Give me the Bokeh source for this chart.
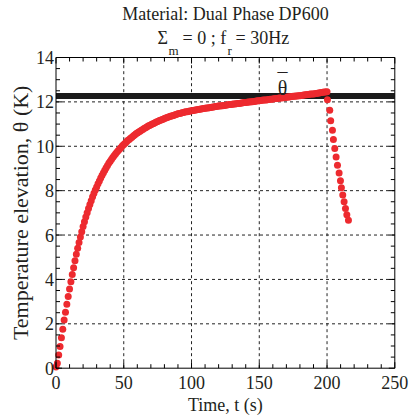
import math
from bokeh.plotting import figure
from bokeh.models import Label, Range1d
from bokeh.embed import file_html
from bokeh.resources import INLINE
from bokeh.core.properties import value

# ---- data ----
heat_t = list(range(0, 201))
heat_theta = [
    0.05, 0.22, 0.6, 0.98, 1.37, 1.75, 2.17, 2.52, 2.88, 3.23,
    3.57, 3.9, 4.22, 4.53, 4.84, 5.13, 5.4, 5.66, 5.91, 6.15,
    6.38, 6.6, 6.81, 7.01, 7.2, 7.38, 7.55, 7.72, 7.88, 8.03,
    8.17, 8.31, 8.44, 8.57, 8.69, 8.81, 8.92, 9.03, 9.13, 9.23,
    9.32, 9.41, 9.5, 9.58, 9.66, 9.74, 9.81, 9.88, 9.95, 10.02,
    10.08, 10.14, 10.2, 10.26, 10.31, 10.36, 10.41, 10.46, 10.51, 10.56,
    10.6, 10.64, 10.68, 10.72, 10.76, 10.8, 10.84, 10.87, 10.91, 10.94,
    10.97, 11.0, 11.03, 11.06, 11.09, 11.12, 11.15, 11.17, 11.2, 11.22,
    11.25, 11.27, 11.3, 11.32, 11.34, 11.36, 11.38, 11.4, 11.42, 11.44,
    11.46, 11.48, 11.49, 11.51, 11.52, 11.54, 11.55, 11.56, 11.58, 11.59,
    11.6, 11.61, 11.62, 11.64, 11.65, 11.66, 11.67, 11.68, 11.69, 11.7,
    11.71, 11.72, 11.73, 11.74, 11.75, 11.76, 11.77, 11.78, 11.79, 11.8,
    11.81, 11.82, 11.83, 11.83, 11.84, 11.85, 11.86, 11.87, 11.88, 11.88,
    11.89, 11.9, 11.91, 11.92, 11.93, 11.93, 11.94, 11.95, 11.96, 11.97,
    11.97, 11.98, 11.99, 12.0, 12.01, 12.01, 12.02, 12.03, 12.04, 12.05,
    12.05, 12.06, 12.07, 12.08, 12.09, 12.09, 12.1, 12.11, 12.12, 12.12,
    12.13, 12.14, 12.15, 12.15, 12.16, 12.17, 12.18, 12.19, 12.19, 12.2,
    12.21, 12.22, 12.22, 12.23, 12.24, 12.25, 12.25, 12.26, 12.27, 12.28,
    12.28, 12.29, 12.3, 12.31, 12.32, 12.32, 12.33, 12.34, 12.35, 12.36,
    12.36, 12.37, 12.38, 12.39, 12.4, 12.41, 12.42, 12.43, 12.44, 12.45,
    12.46,
]
cool_t = [200.3, 202.0, 202.7, 204.0, 204.7, 205.7, 206.7, 207.7,
          208.9, 209.9, 210.6, 211.6, 212.6, 213.6, 214.6, 215.8]
cool_theta = [12.1, 11.62, 11.15, 10.72, 10.3, 9.9, 9.52, 9.15,
              8.8, 8.45, 8.13, 7.8, 7.5, 7.2, 6.92, 6.67]
theta_bar = 12.26

x_ticks = [0, 50, 100, 150, 200, 250]
x_tick_labels = ["0", "50", "100", "150", "200", "250"]
x_minor = [m for m in range(0, 251, 10) if m % 50 != 0]
x_grid = [50, 100, 150, 200]
y_ticks = [0, 2, 4, 6, 8, 10, 12, 14]
y_tick_labels = ["0", "2", "4", "6", "8", "10", "12", "14"]
y_minor = [i * 0.5 for i in range(0, 29) if i % 4 != 0]
y_grid = [2, 4, 6, 8, 10, 12]
x_min, x_max = 0, 250
y_min, y_max = 0, 14

title1 = "Material: Dual Phase DP600"
title2_parts = ["\u03a3", "m", "= 0 ; f", "r", "= 30Hz"]
xlabel = "Time, t (s)"
ylabel = "Temperature elevation, \u03b8 (K)"
bar_label = "\u03b8"

FONT = "Liberation Serif"
TXT = "#231F20"
RED = "#ED2A2F"

# ---- layout: the frame covers the whole canvas; pixel anchors ----
W, H = 411, 415
X0_PX, X250_PX = 55.5, 394.3   # where x=0 and x=250 sit
Y0_PX, Y14_PX = 367.7, 57.0    # where y=0 and y=14 sit
xppu = (X250_PX - X0_PX) / (x_max - x_min)
yppu = (Y0_PX - Y14_PX) / (y_max - y_min)


def xd(px):
    return x_min + (px - X0_PX) / xppu


def yd(py):
    return y_min + (Y0_PX - py) / yppu


p = figure(frame_width=W, frame_height=H,
           x_range=Range1d(xd(0), xd(W)), y_range=Range1d(yd(H), yd(0)),
           toolbar_location=None, output_backend="svg",
           x_axis_location=None, y_axis_location=None,
           min_border=0, background_fill_color="white",
           border_fill_color="white", outline_line_color=None)
p.grid.visible = False

# dashed grid
p.segment(x0=x_grid, y0=[y_min] * len(x_grid), x1=x_grid,
          y1=[y_max] * len(x_grid), line_color="#222222",
          line_dash="3 3", line_width=1)
p.segment(x0=[x_min] * len(y_grid), y0=y_grid, x1=[x_max] * len(y_grid),
          y1=y_grid, line_color="#222222", line_dash="3 3", line_width=1)

# mean temperature line
p.line(x=[x_min, x_max], y=[theta_bar, theta_bar], line_color="#1A1A1A",
       line_width=6)

# measurements
p.scatter(x=heat_t, y=heat_theta, size=7, fill_color=RED, line_color=None)
p.scatter(x=cool_t, y=cool_theta, size=7, fill_color=RED, line_color=None)

# box (left, bottom, top, right)
p.segment(x0=[x_min, x_min, x_min, x_max], y0=[y_min, y_min, y_max, y_min],
          x1=[x_min, x_max, x_max, x_max], y1=[y_max, y_min, y_max, y_max],
          line_color="black", line_width=1)

# inward ticks on all four sides
for xs, ys, ln, ang in [
    (x_ticks, [y_min] * len(x_ticks), 6, math.pi / 2),
    (x_minor, [y_min] * len(x_minor), 4, math.pi / 2),
    (x_ticks, [y_max] * len(x_ticks), 6, -math.pi / 2),
    (x_minor, [y_max] * len(x_minor), 4, -math.pi / 2),
    ([x_min] * len(y_ticks), y_ticks, 6, 0.0),
    ([x_min] * len(y_minor), y_minor, 4, 0.0),
    ([x_max] * len(y_ticks), y_ticks, 6, math.pi),
    ([x_max] * len(y_minor), y_minor, 4, math.pi),
]:
    p.ray(x=xs, y=ys, length=ln, length_units="screen", angle=ang,
          line_color="black", line_width=1)

# tick labels
p.text(x=x_ticks, y=[y_min] * len(x_ticks), text=x_tick_labels,
       text_font=value(FONT), text_font_size=value("18px"), text_color=TXT,
       text_align="center", text_baseline="middle", y_offset=14)
p.text(x=[x_min] * len(y_ticks), y=y_ticks, text=y_tick_labels,
       text_font=value(FONT), text_font_size=value("18px"), text_color=TXT,
       text_align="right", text_baseline="middle", x_offset=-2)

# axis titles
p.add_layout(Label(x=(x_min + x_max) / 2, y=yd(404), text=xlabel,
                   text_font=FONT, text_font_size="18px", text_color=TXT,
                   text_align="center", text_baseline="middle"))
p.add_layout(Label(x=xd(20), y=(y_min + y_max) / 2, text=ylabel,
                   angle=math.pi / 2, text_font=FONT, text_font_size="22px",
                   text_color=TXT, text_align="center",
                   text_baseline="middle"))

# theta-bar label
p.add_layout(Label(x=xd(282), y=yd(87), text=bar_label, text_font=FONT,
                   text_font_size="20px", text_color=TXT, text_align="center",
                   text_baseline="alphabetic"))
p.add_layout(Label(x=xd(282), y=yd(80), text="\u00af", text_font=FONT,
                   text_font_size="20px", text_color=TXT, text_align="center",
                   text_baseline="alphabetic"))

# title lines
p.add_layout(Label(x=(x_min + x_max) / 2, y=yd(13), text=title1,
                   text_font=FONT, text_font_size="18px", text_color=TXT,
                   text_align="center", text_baseline="middle"))
line2 = [(157, 37, "18px"), (168, 50, "13px"), (182, 37, "18px"),
         (227, 50, "13px"), (235, 37, "18px")]
for (fx, fy, fs), txt in zip(line2, title2_parts):
    p.add_layout(Label(x=xd(fx), y=yd(fy), text=txt, text_font=FONT,
                       text_font_size=fs, text_color=TXT, text_align="left",
                       text_baseline="middle"))

open("out.html", "w").write(file_html(p, INLINE))
